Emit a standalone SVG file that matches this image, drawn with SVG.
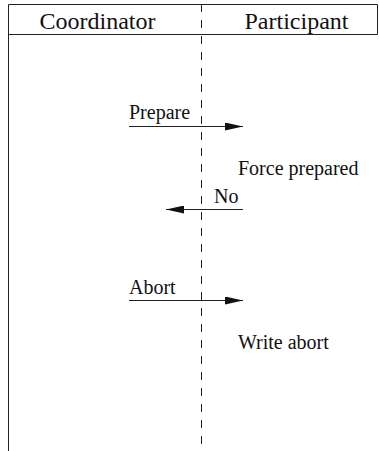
<svg xmlns="http://www.w3.org/2000/svg" width="379" height="451" viewBox="0 0 379 451">
  <style>
    .frame { fill: none; stroke: #222; stroke-width: 1; }
    .life { fill: none; stroke: #222; stroke-width: 1; stroke-dasharray: 8 8; }
    .msg { fill: none; stroke: #222; stroke-width: 1; }
    .head { font-family: "Liberation Serif", "Times New Roman", serif; font-size: 24px; fill: #111; }
    .lbl { font-family: "Liberation Serif", "Times New Roman", serif; font-size: 20px; fill: #111; }
    .ah { fill: #111; }
  </style>
  <defs>
    <marker id="arrow" markerWidth="18" markerHeight="8" refX="18" refY="4" orient="auto" markerUnits="userSpaceOnUse">
      <path class="ah" d="M0,0 L18,4 L0,8 Z"/>
    </marker>
  </defs>

  <!-- table frame with header row -->
  <g id="frame">
    <path class="frame" d="M8.5,451 V4.5 H377.5 V34.5 M8.5,34.5 H377.5"/>
  </g>

  <g id="coordinator">
    <text class="head" x="97.5" y="29" text-anchor="middle">Coordinator</text>
  </g>
  <g id="participant">
    <text class="head" x="296.5" y="29" text-anchor="middle">Participant</text>
  </g>

  <!-- dashed divider between the two parties -->
  <g id="divider">
    <line class="life" x1="201.5" y1="4" x2="201.5" y2="451"/>
  </g>

  <g id="force-prepared">
    <text class="lbl" x="238" y="175">Force prepared</text>
  </g>
  <g id="write-abort">
    <text class="lbl" x="238" y="349">Write abort</text>
  </g>

  <!-- messages -->
  <g id="connectors">
    <g id="msg-prepare">
      <line class="msg" x1="129" y1="126.5" x2="243" y2="126.5" marker-end="url(#arrow)"/>
      <text class="lbl" x="129" y="119">Prepare</text>
    </g>
    <g id="msg-no">
      <line class="msg" x1="243" y1="209.5" x2="166" y2="209.5" marker-end="url(#arrow)"/>
      <text class="lbl" x="214" y="203">No</text>
    </g>
    <g id="msg-abort">
      <line class="msg" x1="129" y1="300.5" x2="243" y2="300.5" marker-end="url(#arrow)"/>
      <text class="lbl" x="129" y="294">Abort</text>
    </g>
  </g>
</svg>
